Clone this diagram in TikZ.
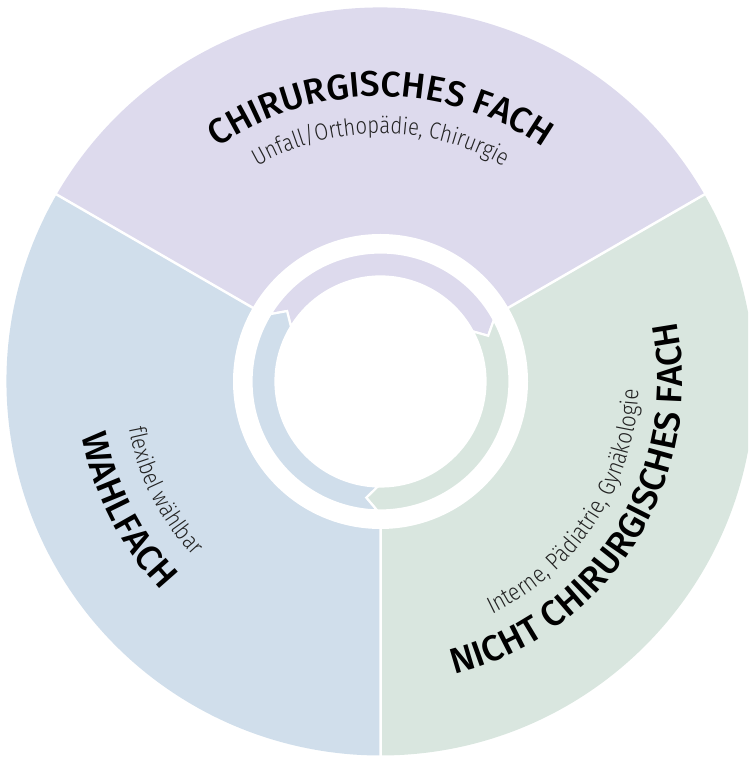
\documentclass[tikz,border=0pt]{standalone}
\usepackage{fontspec}
\setmainfont{Fira Sans}
\newfontfamily\titlefont{Fira Sans Medium}
\newfontfamily\subfont{Fira Sans Light}[FakeStretch=0.86]
\usetikzlibrary{decorations.text}
\definecolor{cpurple}{RGB}{221,218,237}
\definecolor{cblue}{RGB}{208,222,235}
\definecolor{cgreen}{RGB}{217,230,223}
\definecolor{subgray}{RGB}{35,35,35}
\newcommand\arrowseg[3]{%
  \path[seg=#1] (#2:129pt) arc[start angle=#2, end angle=#3, radius=129pt]
    -- ({#3-5.5}:117pt) -- (#3:105pt)
    arc[start angle=#3, end angle=#2, radius=105pt]
    -- ({#2-5.5}:117pt) -- cycle;}
\newcommand\arctext[6]{% radius, start, end, font, size, text
  \path[decorate, decoration={text along path, text align=center,
     text={|#4\fontsize{#5}{#5}\selectfont|#6}}]
     (#2:#1pt) arc[start angle=#2, end angle=#3, radius=#1pt];}
\begin{document}
\begin{tikzpicture}[x=1pt,y=1pt,
  seg/.style={fill=#1, draw=white, line width=2.2pt, line join=miter},
  sep/.style={white, line width=2.5pt}]
\useasboundingbox (0,0) rectangle (748,757);
\clip (0,0) rectangle (748,757);
\begin{scope}[shift={(380.5,375.5)}]
  \coordinate (c) at (0,0);
  \coordinate (e1) at (30:380pt);
  \coordinate (e2) at (150:380pt);
  \coordinate (e3) at (270:380pt);
  % sectors
  \fill[cpurple] (c) -- (30:374pt) arc[start angle=30, end angle=150, radius=374pt] -- cycle;
  \fill[cblue] (c) -- (150:374pt) arc[start angle=150, end angle=270, radius=374pt] -- cycle;
  \fill[cgreen] (c) -- (270:374pt) arc[start angle=270, end angle=390, radius=374pt] -- cycle;
  \draw[sep] (c) -- (e1) (c) -- (e2) (c) -- (e3);
  \fill[white] (c) circle[radius=147.5pt];
  % cycle arrows
  \arrowseg{cpurple}{148.5}{28.5}
  \arrowseg{cgreen}{28.5}{-91.5}
  \arrowseg{cblue}{268.5}{148.5}
  % texts
  \arctext{285}{160}{20}{\titlefont\color{black}}{35.5}{CHIRURGISCHES FACH}
  \arctext{248}{150}{30}{\subfont\color{subgray}}{23.5}{Unfall/Orthopädie, Chirurgie}
  \arctext{303}{166.9}{246.9}{\titlefont\color{black}}{36}{WAHLFACH}
  \arctext{256}{166.8}{246.8}{\subfont\color{subgray}}{23.5}{flexibel wählbar}
  \arctext{302}{-92.2}{27.8}{\titlefont\color{black}}{36}{NICHT CHIRURGISCHES FACH}
  \arctext{258}{-88.1}{21.9}{\subfont\color{subgray}}{24}{Interne, Pädiatrie, Gynäkologie}
\end{scope}
\end{tikzpicture}
\end{document}
